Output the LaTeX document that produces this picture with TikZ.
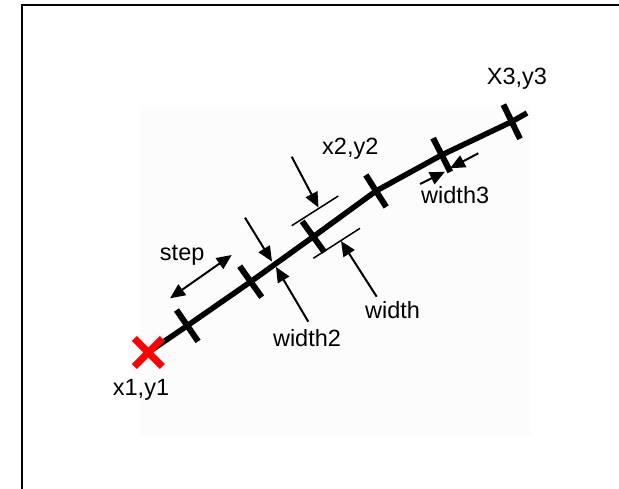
\documentclass[tikz,border=0pt]{standalone}
\usepackage{fontspec}
\setmainfont{Liberation Sans}
\usetikzlibrary{arrows.meta}
\definecolor{bgfaint}{RGB}{252,252,252}
\definecolor{xred}{RGB}{255,0,0}
\begin{document}
\begin{tikzpicture}[x=1pt,y=-1pt,
  lbl/.style={font=\fontsize{23.5}{27}\selectfont, anchor=base, inner sep=0pt},
  pathline/.style={line width=5.5pt, black, line join=round},
  tickmark/.style={line width=6pt, black},
  dimline/.style={line width=1.5pt},
  arr/.style={line width=2pt, -{Triangle[length=15pt,width=13pt]}},
  darr/.style={line width=2pt, {Triangle[length=15pt,width=13pt]}-{Triangle[length=15pt,width=13pt]}},
  redx/.style={line width=7pt, xred}]
\useasboundingbox (0,0) rectangle (619,489);
\fill[bgfaint] (140,105) rectangle (531,436);
\draw[line width=2.3pt] (22,489) -- (22,5) -- (619,5);
% path points
\coordinate (P0) at (148,352.5);
\coordinate (T1) at (187.3,325.7);
\coordinate (T2) at (250.7,281.7);
\coordinate (T3) at (313.3,236.7);
\coordinate (T4) at (376,191);
\coordinate (T5) at (441.7,155);
\coordinate (T6) at (511.7,121.7);
\coordinate (PE) at (527,113);
\draw[pathline] (P0) -- (T1) -- (T2) -- (T3) -- (T4) -- (T5) -- (T6) -- (PE);
% tick marks
\draw[tickmark] (176.5,310.0) -- (198.1,341.4);
\draw[tickmark] (239.7,266.2) -- (261.7,297.2);
\draw[tickmark] (302.2,221.3) -- (324.4,252.1);
\draw[tickmark] (365.8,175.0) -- (386.2,207.0);
\draw[tickmark] (433.1,138.1) -- (450.3,171.9);
\draw[tickmark] (503.4,104.6) -- (520.0,138.8);
% start cross
\draw[redx] (134.3,338.5) -- (162.3,366.5) (134.3,366.5) -- (162.3,338.5);
% dimension lines
\coordinate (U1) at (291.7,225.7); \coordinate (U2) at (338.3,196);
\coordinate (L1) at (313.3,258.3); \coordinate (L2) at (360,228.3);
\draw[dimline] (U1) -- (U2);
\draw[dimline] (L1) -- (L2);
% arrows
\coordinate (a1s) at (291.7,156.7); \coordinate (a1e) at (318.5,207.5);
\coordinate (a2s) at (376.7,296.7); \coordinate (a2e) at (341,241);
\coordinate (b1s) at (245,217.7);   \coordinate (b1e) at (272,261.5);
\coordinate (b2s) at (308.3,321.7); \coordinate (b2e) at (276,267);
\coordinate (c1s) at (420,184);     \coordinate (c1e) at (445,171.7);
\coordinate (c2s) at (478.3,153.3); \coordinate (c2e) at (450,168.3);
\coordinate (s1) at (170,298.3);    \coordinate (s2) at (231.7,255);
\draw[arr] (a1s) -- (a1e);
\draw[arr] (a2s) -- (a2e);
\draw[arr] (b1s) -- (b1e);
\draw[arr] (b2s) -- (b2e);
\draw[arr] (c1s) -- (c1e);
\draw[arr] (c2s) -- (c2e);
\draw[darr] (s1) -- (s2);
% labels
\node[lbl] (x1) at (141,395) {x1,y1};
\node[lbl] (x3) at (517,85) {X3,y3};
\node[lbl] (x2) at (350.3,155) {x2,y2};
\node[lbl] (st) at (182.2,260.7) {step};
\node[lbl] (w) at (392.5,319) {width};
\node[lbl] (w2) at (307,346.7) {width2};
\node[lbl] (w3) at (455.2,204) {width3};
\end{tikzpicture}
\end{document}
